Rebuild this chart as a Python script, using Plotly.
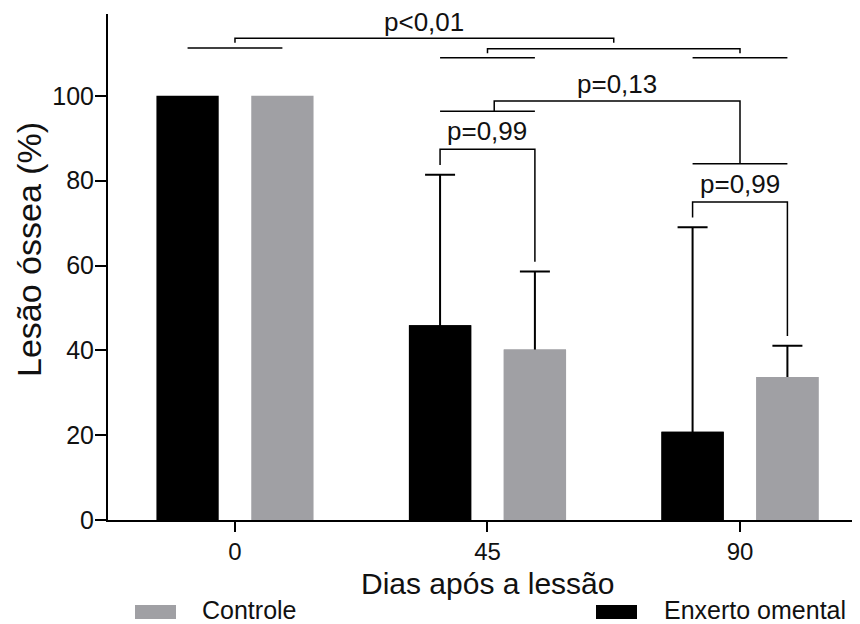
import plotly.graph_objects as go

# ---------------- data ----------------
days = [0, 45, 90]
day_labels = ["0", "45", "90"]
enxerto = [100.0, 45.9, 20.8]
enxerto_sd = [None, 35.5, 48.2]
controle = [100.0, 40.2, 33.7]
controle_sd = [None, 18.4, 7.4]
series_names = ["Enxerto omental", "Controle"]
series_colors = ["#000000", "#a0a0a4"]
y_ticks = [0, 20, 40, 60, 80, 100]
p_pair = ["p=0,99", "p=0,99"]      # 45 d and 90 d: enxerto vs controle
p_45_vs_90 = "p=0,13"
p_0_vs_rest = "p<0,01"

# ---------------- style / layout constants ----------------
FONT = "Liberation Sans, Arial, sans-serif"
PAGE_PAD = 8                     # default body margin of the html page
W, H = 860 - PAGE_PAD, 624 - PAGE_PAD
ML, MR, MT, MB = 100, 2, 6, 104
BAR_W = 11.1
OFF = [-14.0, 2.9]
X_RANGE = [-22.63, 111.03]
Y_RANGE = [0, 119.3]
LINE = dict(color="black", width=1.5)
P_SIZE = 26

fig = go.Figure()
series = [(enxerto, enxerto_sd), (controle, controle_sd)]

# error bars (symmetric; lower half hidden by the bars drawn on top)
for (vals, sd), name, color, off in zip(series, series_names, series_colors, OFF):
    keep = [i for i, s in enumerate(sd) if s is not None]
    fig.add_trace(go.Bar(
        x=[days[i] for i in keep], y=[vals[i] for i in keep], name=name,
        width=BAR_W, offset=off,
        marker=dict(color=color, line=dict(width=0)),
        error_y=dict(type="data", array=[sd[i] for i in keep], symmetric=True,
                     color="black", thickness=2, width=15),
        showlegend=False, hoverinfo="skip"))
for (vals, sd), name, color, off in zip(series, series_names, series_colors, OFF):
    fig.add_trace(go.Bar(
        x=days, y=vals, name=name, width=BAR_W, offset=off,
        marker=dict(color=color, line=dict(width=0)),
        showlegend=False))

# ---------------- significance brackets ----------------
def centre(day, k):
    return day + OFF[k] + BAR_W / 2

def tops(i):
    return [enxerto[i] + (enxerto_sd[i] or 0), controle[i] + (controle_sd[i] or 0)]

shapes = []
annotations = []

def path(points):
    d = "M " + " L ".join(f"{x},{y}" for x, y in points)
    shapes.append(dict(type="path", path=d, xref="x", yref="y", line=LINE))

def label(x, y, text):
    annotations.append(dict(x=x, y=y, xref="x", yref="y", text=text, showarrow=False,
                            font=dict(family=FONT, size=P_SIZE, color="#111"),
                            xanchor="center", yanchor="middle"))

BR_GAP, DROP_GAP, TXT_UP, LINE_UP = 6.0, 2.3, 4.2, 9.0
pair_level = {}
for i, p in zip([1, 2], p_pair):
    d = days[i]
    t = tops(i)
    top = max(t) + BR_GAP
    xl, xr = centre(d, 0), centre(d, 1)
    path([(xl, t[0] + DROP_GAP), (xl, top), (xr, top), (xr, t[1] + DROP_GAP)])
    label((xl + xr) / 2, top + TXT_UP, p)
    lvl = top + LINE_UP
    path([(xl, lvl), (xr, lvl)])
    pair_level[i] = lvl

# 45 vs 90
h_top = pair_level[1] + 2.4
hx0 = days[1] + 1.2
path([(hx0, pair_level[1]), (hx0, h_top), (days[2], h_top), (days[2], pair_level[2])])
label((hx0 + days[2]) / 2, h_top + 4.0, p_45_vs_90)

# 0 vs (45, 90)
LOW, MID, TOP, TICK = 109.0, 111.1, 113.6, 1.05
path([(centre(days[0], 0), MID + 0.2), (centre(days[0], 1), MID + 0.2)])
for i in [1, 2]:
    path([(centre(days[i], 0), LOW), (centre(days[i], 1), LOW)])
path([(days[1], MID - TICK), (days[1], MID), (days[2], MID), (days[2], MID - TICK)])
x_right = (days[1] + days[2]) / 2
path([(days[0], TOP - TICK), (days[0], TOP), (x_right, TOP), (x_right, TOP - TICK)])
label((days[0] + x_right) / 2, 117.5, p_0_vs_rest)

# ---------------- axis titles ----------------
PW, PH = W - ML - MR, H - MT - MB
def rx(px):      # reference-window pixel -> paper
    return (px - PAGE_PAD - ML) / PW
def ry(py):
    return (H - MB - (py - PAGE_PAD)) / PH

annotations.append(dict(text="Dias após a lessão", xref="paper", yref="paper",
                        x=rx(487), y=ry(583), showarrow=False,
                        xanchor="center", yanchor="middle",
                        font=dict(family=FONT, size=30, color="#111")))
annotations.append(dict(text="Lesão óssea (%)", xref="paper", yref="paper",
                        x=rx(29), y=ry(250), showarrow=False, textangle=-90,
                        xanchor="center", yanchor="middle",
                        font=dict(family=FONT, size=34, color="#111")))

# ---------------- legend (drawn manually: wide swatches) ----------------
legend_items = [("Controle", series_colors[1], 135, 200),
                ("Enxerto omental", series_colors[0], 596, 662)]
for text, color, sx, tx in legend_items:
    shapes.append(dict(type="rect", xref="paper", yref="paper",
                       x0=rx(sx), x1=rx(sx + 41), y0=ry(619), y1=ry(605),
                       fillcolor=color, line=dict(width=0)))
    annotations.append(dict(text=text, xref="paper", yref="paper",
                            x=rx(tx), y=ry(610), showarrow=False,
                            xanchor="left", yanchor="middle",
                            font=dict(family=FONT, size=25, color="#111")))

fig.update_layout(
    width=W, height=H, autosize=False,
    margin=dict(l=ML, r=MR, t=MT, b=MB),
    paper_bgcolor="white", plot_bgcolor="white",
    barmode="overlay", showlegend=False,
    font=dict(family=FONT, size=24, color="#111"),
    shapes=shapes, annotations=annotations,
    xaxis=dict(range=X_RANGE, tickmode="array", tickvals=days, ticktext=day_labels,
               showline=True, linecolor="black", linewidth=2,
               ticks="outside", ticklen=10, tickwidth=2, tickcolor="black",
               ticklabelstandoff=-1,
               showgrid=False, zeroline=False, tickfont=dict(size=24)),
    yaxis=dict(range=Y_RANGE, tickmode="array", tickvals=y_ticks,
               showline=True, linecolor="black", linewidth=2,
               ticks="outside", ticklen=11, tickwidth=2, tickcolor="black",
               ticklabelstandoff=-4,
               showgrid=False, zeroline=False, tickfont=dict(size=25)),
)

fig.write_html("out.html")
